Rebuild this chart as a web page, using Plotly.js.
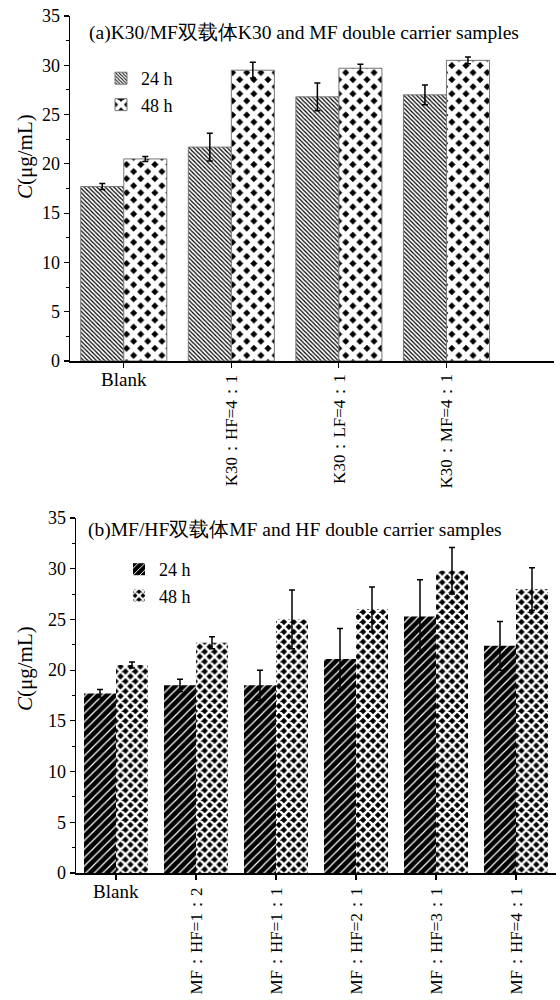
<!DOCTYPE html>
<html>
<head>
<meta charset="utf-8">
<script src="https://cdn.plot.ly/plotly-3.0.1.min.js"></script>
<style>html,body{margin:0;padding:0;background:#fff}#chart{width:560px;height:1000px}</style>
</head>
<body>
<div id="chart"></div>
<script>
// ---- Panel (a) data ----
const catsA = ['Blank', 'K30：HF=4：1', 'K30：LF=4：1', 'K30：MF=4：1'];
const a24 = [17.7, 21.7, 26.8, 27.0];
const a24err = [0.3, 1.4, 1.4, 1.0];
const a48 = [20.5, 29.5, 29.7, 30.5];
const a48err = [0.25, 0.8, 0.4, 0.35];

// ---- Panel (b) data ----
const catsB = ['Blank', 'MF：HF=1：2', 'MF：HF=1：1', 'MF：HF=2：1', 'MF：HF=3：1', 'MF：HF=4：1'];
const b24 = [17.7, 18.5, 18.5, 21.1, 25.3, 22.4];
const b24err = [0.4, 0.6, 1.5, 3.0, 3.6, 2.4];
const b48 = [20.5, 22.7, 25.0, 26.0, 29.8, 28.0];
const b48err = [0.3, 0.6, 2.9, 2.2, 2.3, 2.1];

const seriesNames = ['24 h', '48 h'];
const titleA = '(a)K30/MF双载体K30 and MF double carrier samples';
const titleB = '(b)MF/HF双载体MF and HF double carrier samples';
const yTitle = '<i>C</i>(μg/mL)';

const FONT = 'Liberation Serif, Times New Roman, serif';
const errStyle = arr => ({type: 'data', array: arr, visible: true, color: '#000', thickness: 1.5, width: 3});

const traces = [
  {type: 'bar', x: catsA, y: a24, name: seriesNames[0], xaxis: 'x', yaxis: 'y', legend: 'legend',
   marker: {color: '#fff', line: {color: '#777', width: 1},
            pattern: {shape: '\\', size: 3, solidity: 0.4, fgcolor: '#000', bgcolor: '#fff', fillmode: 'replace'}},
   error_y: errStyle(a24err)},
  {type: 'bar', x: catsA, y: a48, name: seriesNames[1], xaxis: 'x', yaxis: 'y', legend: 'legend',
   marker: {color: '#000', line: {color: '#777', width: 1},
            pattern: {shape: 'x', size: 10, solidity: 0.75, fgcolor: '#fff', bgcolor: '#000', fillmode: 'replace'}},
   error_y: errStyle(a48err)},
  {type: 'bar', x: catsB, y: b24, name: seriesNames[0], xaxis: 'x2', yaxis: 'y2', legend: 'legend2',
   marker: {color: '#000', line: {color: '#000', width: 0},
            pattern: {shape: '/', size: 6, solidity: 0.2, fgcolor: '#fff', bgcolor: '#000', fillmode: 'replace'}},
   error_y: errStyle(b24err)},
  {type: 'bar', x: catsB, y: b48, name: seriesNames[1], xaxis: 'x2', yaxis: 'y2', legend: 'legend2',
   marker: {color: '#000', line: {color: '#000', width: 0},
            pattern: {shape: 'x', size: 7, solidity: 0.58, fgcolor: '#fff', bgcolor: '#000', fillmode: 'replace'}},
   error_y: errStyle(b48err)}
];

const xBase = {type: 'category', showline: true, linecolor: '#000', linewidth: 1.5, ticks: 'outside',
  ticklen: 5, tickcolor: '#000', tickwidth: 1.2, showticklabels: false, showgrid: false, zeroline: false, fixedrange: true};
const yBase = {range: [0, 35], dtick: 5, tick0: 0, showline: true, linecolor: '#000', linewidth: 1.5,
  ticks: 'outside', ticklen: 5, tickcolor: '#000', tickwidth: 1.2, showgrid: false, zeroline: false,
  tickfont: {family: FONT, size: 18, color: '#000'},
  minor: {dtick: 2.5, ticks: 'outside', ticklen: 3, tickcolor: '#000', tickwidth: 1}};

const annotations = [];
function catLabels(cats, xref, yref, shiftH, shiftV) {
  cats.forEach((c, i) => {
    const horiz = i === 0;
    annotations.push({text: c, x: c, y: 0, xref: xref, yref: yref + ' domain', showarrow: false,
      textangle: horiz ? 0 : -90, xanchor: 'center', yanchor: 'top', yshift: horiz ? shiftH : shiftV,
      font: {family: FONT, size: horiz ? 19 : 17, color: '#000'}});
  });
}
catLabels(catsA, 'x', 'y', -6, -11);
catLabels(catsB, 'x2', 'y2', -6, -13);

annotations.push({text: titleA, xref: 'paper', yref: 'paper', x: 87 / 560, y: 1 - 33 / 1000,
  xanchor: 'left', yanchor: 'middle', showarrow: false, font: {family: FONT, size: 19.5, color: '#000'}});
annotations.push({text: titleB, xref: 'paper', yref: 'paper', x: 86 / 560, y: 1 - 530 / 1000,
  xanchor: 'left', yanchor: 'middle', showarrow: false, font: {family: FONT, size: 19.5, color: '#000'}});
annotations.push({text: yTitle, xref: 'paper', yref: 'paper', x: 25 / 560, y: 1 - 157 / 1000,
  xanchor: 'center', yanchor: 'middle', textangle: -90, showarrow: false, font: {family: FONT, size: 21, color: '#000'}});
annotations.push({text: yTitle, xref: 'paper', yref: 'paper', x: 25 / 560, y: 1 - 669 / 1000,
  xanchor: 'center', yanchor: 'middle', textangle: -90, showarrow: false, font: {family: FONT, size: 21, color: '#000'}});

const layout = {
  width: 560, height: 1000, margin: {l: 0, r: 0, t: 0, b: 0},
  paper_bgcolor: '#fff', plot_bgcolor: 'rgba(0,0,0,0)',
  barmode: 'group', bargap: 0.2, bargroupgap: 0,
  font: {family: FONT, size: 17, color: '#000'},
  xaxis: Object.assign({}, xBase, {domain: [70 / 560, 554 / 560], anchor: 'y', range: [-0.5, 4.0],
    categoryorder: 'array', categoryarray: catsA}),
  yaxis: Object.assign({}, yBase, {domain: [1 - 361 / 1000, 1 - 16 / 1000], anchor: 'x'}),
  xaxis2: Object.assign({}, xBase, {domain: [76 / 560, 556 / 560], anchor: 'y2', range: [-0.5, 5.5],
    categoryorder: 'array', categoryarray: catsB}),
  xaxis3: Object.assign({}, xBase, {domain: [76 / 560, 556 / 560], anchor: 'y2', overlaying: 'x2',
    range: [-0.5, 5.5], categoryorder: 'array', categoryarray: catsB, tickson: 'boundaries',
    showline: false, ticklen: 4}),
  yaxis2: Object.assign({}, yBase, {domain: [1 - 873 / 1000, 1 - 518 / 1000], anchor: 'x2'}),
  legend: {x: 101 / 560, y: 1 - 60 / 1000, xanchor: 'left', yanchor: 'top', bgcolor: 'rgba(0,0,0,0)',
    font: {family: FONT, size: 18, color: '#000'}, tracegroupgap: 0, itemwidth: 30},
  legend2: {x: 119 / 560, y: 1 - 551 / 1000, xanchor: 'left', yanchor: 'top', bgcolor: 'rgba(0,0,0,0)',
    font: {family: FONT, size: 18, color: '#000'}, tracegroupgap: 0, itemwidth: 30},
  annotations: annotations,
  showlegend: true
};

Plotly.newPlot('chart', traces, layout, {displayModeBar: false, staticPlot: true});
</script>
</body>
</html>
